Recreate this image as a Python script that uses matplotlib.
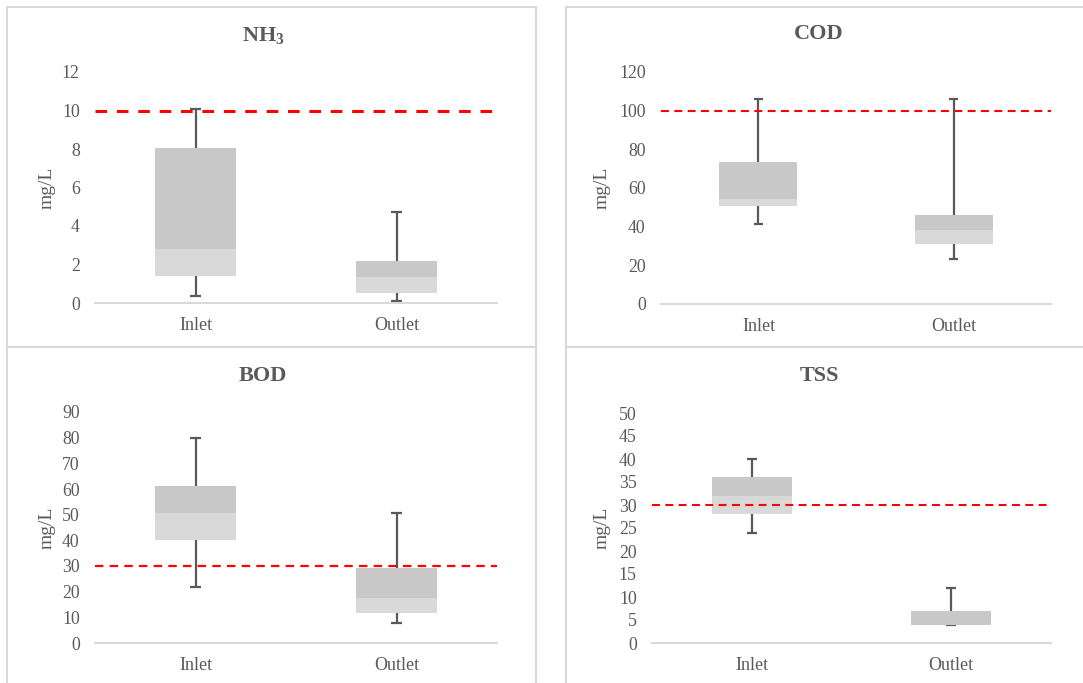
import matplotlib
matplotlib.use("Agg")
import matplotlib.pyplot as plt
from matplotlib.patches import Rectangle

plt.rcParams['font.family'] = ['Liberation Serif', 'DejaVu Serif']
plt.rcParams['mathtext.fontset'] = 'custom'
plt.rcParams['mathtext.rm'] = 'Liberation Serif'
plt.rcParams['mathtext.bf'] = 'Liberation Serif:bold'

# data
categories = ['Inlet', 'Outlet']

nh3_min = [0.36, 0.10]
nh3_q1 = [1.40, 0.50]
nh3_med = [2.80, 1.35]
nh3_q3 = [8.05, 2.17]
nh3_max = [10.10, 4.74]

cod_min = [41.4, 23.5]
cod_q1 = [50.9, 30.9]
cod_med = [54.5, 38.3]
cod_q3 = [73.4, 46.1]
cod_max = [106.2, 106.2]

bod_min = [21.8, 7.7]
bod_q1 = [40.0, 11.5]
bod_med = [50.8, 17.7]
bod_q3 = [61.0, 29.3]
bod_max = [80.0, 50.8]

tss_min = [24.0, 4.0]
tss_q1 = [28.0, 4.0]
tss_med = [32.0, 4.0]
tss_q3 = [36.0, 7.0]
tss_max = [40.0, 12.0]

limits = [10, 100, 30, 30]
titles = [r'NH$_\mathbf{3}$', 'COD', 'BOD', 'TSS']
yticks = [list(range(0, 13, 2)), list(range(0, 121, 20)),
          list(range(0, 91, 10)), list(range(0, 51, 5))]

W, H = 1083, 683
fig = plt.figure(figsize=(W / 100, H / 100), dpi=100)

TXT = '#595959'
LIGHT = '#d9d9d9'
DARK = '#c8c8c8'
BORDER = '#d9d9d9'

# panel frames
for (x0, y0, x1, y1) in [(7, 7, 536, 347), (566, 7, 1090, 347),
                         (7, 347, 536, 690), (566, 347, 1090, 690)]:
    fig.patches.append(Rectangle((x0 / W, 1 - y1 / H), (x1 - x0) / W, (y1 - y0) / H,
                                 transform=fig.transFigure, fill=False,
                                 edgecolor=BORDER, linewidth=1.5))

# axes boxes in pixels: left, right, y of zero, y of top tick
boxes = [(95, 497, 303, 72), (661, 1051, 304, 72),
         (95, 497, 643, 412), (652, 1051, 643, 413)]
title_pos = [(263, 36), (819, 34), (263, 376), (819, 376)]
ylab_pos = [(47, 188), (602, 188), (47, 528), (602, 528)]
dash_styles = [(2.2, (3.8, 3.2)), (1.5, (3.8, 2.6)), (1.6, (3.8, 2.8)), (1.5, (3.8, 2.6))]

stats = [
    (nh3_min, nh3_q1, nh3_med, nh3_q3, nh3_max),
    (cod_min, cod_q1, cod_med, cod_q3, cod_max),
    (bod_min, bod_q1, bod_med, bod_q3, bod_max),
    (tss_min, tss_q1, tss_med, tss_q3, tss_max),
]

x = [0, 1]
for i in range(4):
    l, r, y0, ytop = boxes[i]
    ticks = yticks[i]
    ax = fig.add_axes([l / W, 1 - y0 / H, (r - l) / W, (y0 - ytop) / H])
    mn, q1, med, q3, mx = stats[i]

    ax.vlines(x, mn, mx, color=TXT, linewidth=1.6, zorder=1)
    ax.hlines(mn, [v - 0.025 for v in x], [v + 0.025 for v in x], color=TXT, linewidth=1.6, zorder=1)
    ax.hlines(mx, [v - 0.025 for v in x], [v + 0.025 for v in x], color=TXT, linewidth=1.6, zorder=1)
    ax.bar(x, [b - a for a, b in zip(q1, med)], bottom=q1, width=0.4, color=LIGHT, zorder=2)
    ax.bar(x, [b - a for a, b in zip(med, q3)], bottom=med, width=0.4, color=DARK, zorder=2)

    lw, dsh = dash_styles[i]
    ax.axhline(limits[i], color='#ff0000', linewidth=lw, linestyle=(0, dsh), zorder=3)

    ax.set_xlim(-0.5, 1.5)
    ax.set_ylim(ticks[0], ticks[-1])
    ax.set_yticks(ticks)
    ax.set_xticks(x)
    ax.set_xticklabels(categories)
    ax.tick_params(axis='y', length=0, labelsize=12.8, labelcolor=TXT, pad=11)
    ax.tick_params(axis='x', length=0, labelsize=13, labelcolor=TXT, pad=10)
    for s in ['top', 'right', 'left']:
        ax.spines[s].set_visible(False)
    ax.spines['bottom'].set_color(BORDER)
    ax.spines['bottom'].set_linewidth(1.5)
    ax.patch.set_alpha(0)

    tx, ty = title_pos[i]
    fig.text(tx / W, 1 - ty / H, titles[i], ha='center', va='center',
             fontsize=16, fontweight='bold', color=TXT)
    lx, ly = ylab_pos[i]
    fig.text(lx / W, 1 - ly / H, 'mg/L', ha='center', va='center',
             rotation=90, fontsize=14, color=TXT)

fig.savefig('out.png', dpi=100)
